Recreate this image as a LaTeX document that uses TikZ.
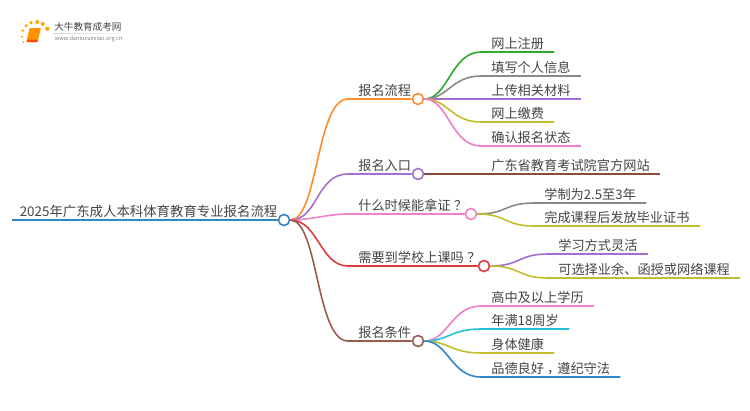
\documentclass[tikz,border=0pt]{standalone}
\usepackage{fontspec}
\setmainfont{Noto Sans CJK SC}
\definecolor{cblue}{HTML}{2F86C8}
\definecolor{corange}{HTML}{FF8C2B}
\definecolor{cpurple}{HTML}{A56FD0}
\definecolor{cpink}{HTML}{EE7FC9}
\definecolor{cred}{HTML}{E03A3F}
\definecolor{cbrown}{HTML}{9A5B50}
\definecolor{cgreen}{HTML}{2EAA2E}
\definecolor{cgray}{HTML}{8A8A8A}
\definecolor{colive}{HTML}{C4BD2C}
\definecolor{ccyan}{HTML}{25C0D6}
\definecolor{cmaroon}{HTML}{8C4A3E}
\definecolor{ctext}{HTML}{444444}
\begin{document}
\begin{tikzpicture}[x=1pt, y=-1pt, line width=1.6pt,
            word/.style = {anchor=south west, inner xsep=9.5pt, inner ysep=1.5pt, text=ctext, font=\fontsize{13.2}{14}\selectfont},
            main/.style = {draw, circle, fill=white, minimum size=11pt, inner sep=0pt},
            dot/.style = {fill=orange!70!yellow, draw=none}]
           \useasboundingbox (0,0) rectangle (750,410);

           % logo
           \foreach \px/\py/\pr in {26/25.7/1.6, 31/22.7/1.9, 37.3/22/2, 42.7/24/2, 47.3/28.7/2.2, 22.7/30.7/1.4, 22/36.7/1.2, 23.3/42/1}
               \fill[dot] (\px,\py) circle (\pr);
           \fill[orange!85!yellow, rounded corners=1pt] (29.5,28) -- (41,28) -- (37.5,42) -- (26.5,42) -- cycle;
           \fill[orange!60!red] (27.5,39.5) -- (38,39.5) -- (37.5,42) -- (26.5,42) -- cycle;
           \node[anchor=west, inner sep=0pt, text=ctext, font=\fontsize{9.6}{10}\selectfont] (logoname) at (53.5,26.5) {大牛教育成考网};
           \shade[left color=gray!35, right color=white] (53,33) rectangle (133,33.7);
           \node[anchor=west, inner sep=0pt, text=gray, font=\fontsize{5.6}{6}\selectfont] (logourl) at (54,38.5) {www.daniuxuexiao.org.cn};

           \node[main, draw=cblue] (root) at (284,220) {};
           \node[word, inner xsep=7pt, font=\fontsize{13.4}{14}\selectfont] (title) at (12,220) {2025年广东成人本科体育教育专业报名流程};
           \draw[cblue] (title.south west) -- (root.west);

           % rami principali
           \node[main, draw=corange] (flow) at (418,99) {};
           \node[word] (flowtxt) at (348,99) {报名流程};
           \node[main, draw=cpurple] (entry) at (418,174) {};
           \node[word] (entrytxt) at (348,174) {报名入口};
           \node[main, draw=cpink] (cert) at (471,214) {};
           \node[word] (certtxt) at (348,214) {什么时候能拿证\hspace{3.5pt}？};
           \node[main, draw=cred] (school) at (484,266) {};
           \node[word] (schooltxt) at (348,266) {需要到学校上课吗\hspace{3.5pt}？};
           \node[main, draw=cbrown] (cond) at (418,341) {};
           \node[word] (condtxt) at (348,341) {报名条件};

           \draw[corange] (root.east) .. controls +(28,0) and +(-32,0) .. (flowtxt.south west) -- (flow.west);
           \draw[cpurple] (root.east) .. controls +(28,0) and +(-32,0) .. (entrytxt.south west) -- (entry.west);
           \draw[cpink] (root.east) .. controls +(20,0) and +(-20,0) .. (certtxt.south west) -- (cert.west);
           \draw[cred] (root.east) .. controls +(28,0) and +(-28,0) .. (schooltxt.south west) -- (school.west);
           \draw[cbrown] (root.east) .. controls +(28,0) and +(-32,0) .. (condtxt.south west) -- (cond.west);

           % foglie
           \node[word] (f1) at (481,52) {网上注册};
           \node[word] (f2) at (481,76) {填写个人信息};
           \node[word] (f3) at (481,99) {上传相关材料};
           \node[word] (f4) at (481,122) {网上缴费};
           \node[word] (f5) at (481,146) {确认报名状态};
           \node[word] (e1) at (481,174) {广东省教育考试院官方网站};
           \node[word] (c1) at (534,203) {学制为2.5至3年};
           \node[word] (c2) at (534,226) {完成课程后发放毕业证书};
           \node[word] (s1) at (548,254) {学习方式灵活};
           \node[word] (s2) at (548,278) {可选择业余、函授或网络课程};
           \node[word] (n1) at (481,306) {高中及以上学历};
           \node[word] (n2) at (481,329) {年满18周岁};
           \node[word] (n3) at (481,353) {身体健康};
           \node[word] (n4) at (481,377) {品德良好\hspace{3pt}，\hspace{-3pt}遵纪守法};

           \draw[cgreen] (flow.east) .. controls +(24,0) and +(-30,0) .. (f1.south west) -- (f1.south east);
           \draw[cgray] (flow.east) .. controls +(24,0) and +(-30,0) .. (f2.south west) -- (f2.south east);
           \draw[cpurple] (flow.east) -- (f3.south east);
           \draw[colive] (flow.east) .. controls +(24,0) and +(-30,0) .. (f4.south west) -- (f4.south east);
           \draw[cpink] (flow.east) .. controls +(24,0) and +(-30,0) .. (f5.south west) -- (f5.south east);
           \draw[cmaroon] (entry.east) -- (e1.south east);
           \draw[cgray] (cert.east) .. controls +(30,0) and +(-30,0) .. (c1.south west) -- (c1.south east);
           \draw[colive] (cert.east) .. controls +(30,0) and +(-30,0) .. (c2.south west) -- (c2.south east);
           \draw[cpurple] (school.east) .. controls +(30,0) and +(-30,0) .. (s1.south west) -- (s1.south east);
           \draw[colive] (school.east) .. controls +(30,0) and +(-30,0) .. (s2.south west) -- (s2.south east);
           \draw[cpink] (cond.east) .. controls +(24,0) and +(-30,0) .. (n1.south west) -- (n1.south east);
           \draw[ccyan] (cond.east) .. controls +(24,0) and +(-30,0) .. (n2.south west) -- (n2.south east);
           \draw[colive] (cond.east) .. controls +(24,0) and +(-30,0) .. (n3.south west) -- (n3.south east);
           \draw[cblue] (cond.east) .. controls +(24,0) and +(-30,0) .. (n4.south west) -- (n4.south east);
        \end{tikzpicture}
\end{document}
